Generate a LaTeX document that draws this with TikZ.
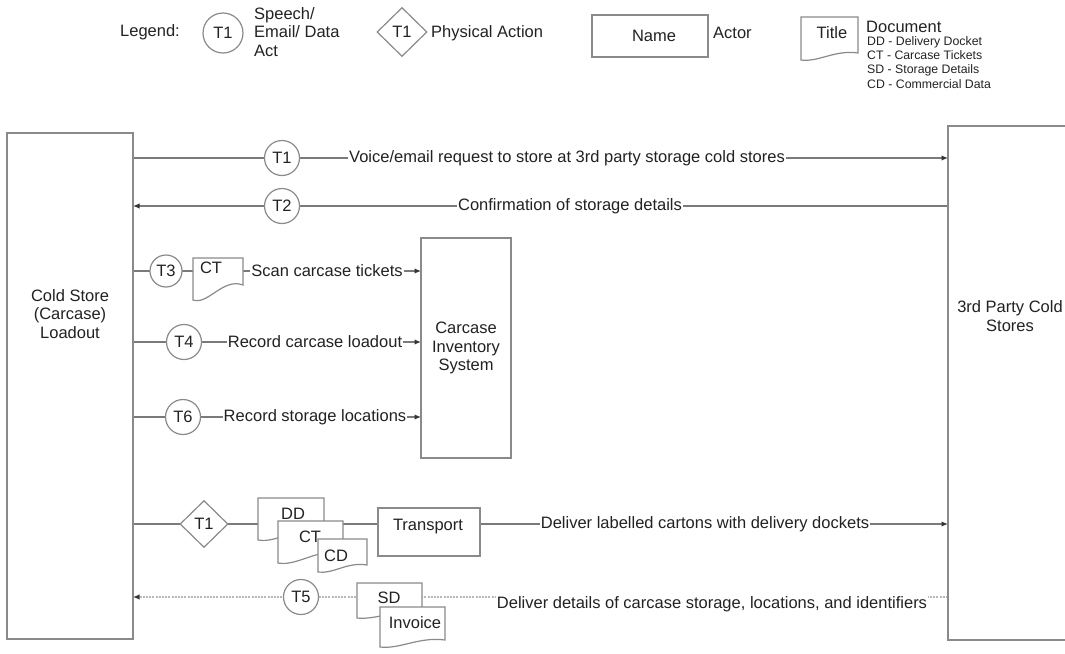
\documentclass[tikz,border=0pt]{standalone}
\usepackage{fontspec}
\setmainfont{Liberation Sans}
\usetikzlibrary{arrows.meta,shapes.geometric,backgrounds}
\definecolor{txt}{HTML}{222222}
\definecolor{edge}{HTML}{8A8A8A}
\definecolor{lnk}{HTML}{7A7A7A}
\definecolor{tip}{HTML}{333333}
\definecolor{dotc}{HTML}{B8B8B8}
\newcommand\mainfs{\fontsize{16.5}{18.5}\selectfont}
\newcommand\smallfs{\fontsize{12.3}{14.3}\selectfont}
\tikzset{
  lbl/.style={font=\mainfs, text=txt, inner sep=1pt, fill=white},
  lbltr/.style={font=\mainfs, text=txt, inner sep=0pt},
  actor/.style={draw=edge, line width=1.5pt, fill=white, inner sep=0pt, outer sep=0pt},
  act/.style={circle, draw=edge, line width=1.2pt, fill=white, minimum size=35pt, inner sep=0pt, font=\mainfs, text=txt},
  phys/.style={diamond, draw=edge, line width=1.2pt, fill=white, minimum width=48pt, minimum height=47pt, inner sep=0pt, font=\mainfs, text=txt},
  docbody/.style={draw=none, inner sep=0pt, outer sep=0pt},
  docline/.style={draw=edge, line width=1.2pt, fill=white},
  doctext/.style={font=\mainfs, text=txt, inner sep=0pt},
  conn/.style={draw=lnk, line width=1.3pt, -{Latex[length=6.5pt,width=5.5pt,color=tip]}},
  dotconn/.style={draw=dotc, line width=1.3pt, dash pattern=on 2pt off 1.2pt, -{Latex[length=6.5pt,width=5.5pt,color=tip]}},
}
\newcommand\docnode[9]{%
  \pgfmathsetmacro\dBl{#3+#6}%
  \pgfmathsetmacro\dCax{#2+0.3*#4}%
  \pgfmathsetmacro\dCay{#3+#6+0.35*(#6-#5)}%
  \pgfmathsetmacro\dCbx{#2+0.6*#4}%
  \pgfmathsetmacro\dCby{#3+#5-0.5*(#6-#5)}%
  \node[docbody, minimum width=#4pt, minimum height=#5pt, anchor=north west] (#1) at (#2,#3) {};
  \filldraw[docline] (#1.north west) -- (#2,\dBl) .. controls (\dCax,\dCay) and (\dCbx,\dCby) .. (#1.south east) -- (#1.north east) -- cycle;
  \node[doctext] (#1-t) at (#8,#9) {#7};
}
\begin{document}
\begin{tikzpicture}[x=1pt,y=-1pt]
\useasboundingbox (0,0) rectangle (1065,653);
\clip (0,0) rectangle (1065,653);

% ---------- legend ----------
\node[lbltr] (leg) at (150,32) {Legend:};
\node[act, minimum size=40pt] (legact) at (223,33) {T1};
\node[lbltr, anchor=west, align=left] (legacttxt) at (254,32) {Speech/\\Email/ Data\\Act};
\node[phys, minimum width=50pt, minimum height=49pt] (legphys) at (402,32) {T1};
\node[lbltr, anchor=west] (legphystxt) at (431,33) {Physical Action};
\node[actor, minimum width=116pt, minimum height=42pt] (legactor) at (650,36) {};
\node[lbltr] (legname) at (654,36) {Name};
\node[lbltr, anchor=west] (legactortxt) at (713,33) {Actor};
\docnode{legdoc}{801}{17}{57}{36}{43}{Title}{832}{33}
\node[lbltr, anchor=west] (legdoctxt) at (866,27) {Document};
\node[anchor=north west, align=left, font=\smallfs, text=txt, inner sep=0pt] (legdoclist) at (867,36)
  {DD - Delivery Docket\\CT - Carcase Tickets\\SD - Storage Details\\CD - Commercial Data};

% ---------- actors ----------
\node[actor, minimum width=126pt, minimum height=506pt, anchor=north west] (cold) at (7,133) {};
\node[lbltr, align=center] (coldt) at (70,314) {Cold Store\\(Carcase)\\Loadout};
\node[actor, minimum width=126pt, minimum height=514pt, anchor=north west] (third) at (948,126) {};
\node[lbltr, align=center] (thirdt) at (1010,316) {3rd Party Cold\\Stores};
\node[actor, minimum width=90pt, minimum height=220pt, anchor=north west] (inv) at (421,238) {};
\node[lbltr, align=center] (invt) at (466,348) {Carcase\\Inventory\\System};

% ---------- row T1 ----------
\node[act] (t1) at (282,158) {T1};
\node[lbl] (t1txt) at (567,158) {Voice/email request to store at 3rd party storage cold stores};
% ---------- row T2 ----------
\node[act] (t2) at (282,206) {T2};
\node[lbl] (t2txt) at (570,206) {Confirmation of storage details};
% ---------- row T3 ----------
\node[act, minimum size=32pt] (t3) at (166,271) {T3};
\docnode{ct1}{193}{258}{50}{27}{42}{CT}{211}{268}
\node[lbl] (t3txt) at (327,271) {Scan carcase tickets};
% ---------- row T4 ----------
\node[act] (t4) at (184,342) {T4};
\node[lbl] (t4txt) at (315,342) {Record carcase loadout};
% ---------- row T6 ----------
\node[act] (t6) at (183,417) {T6};
\node[lbl] (t6txt) at (315,417) {Record storage locations};
% ---------- row physical T1 ----------
\node[phys] (pa) at (204,524) {T1};
\docnode{dd}{258}{498}{66}{32}{42}{DD}{293}{514}
\docnode{ct2}{278}{521}{65}{32}{42}{CT}{310}{537}
\docnode{cd}{318}{539}{49}{26}{33}{CD}{336}{556}
\node[actor, minimum width=102pt, minimum height=48pt, anchor=north west] (trans) at (378,508) {};
\node[lbltr] (transt) at (428,527) {Transport};
\node[lbl] (patxt) at (705,524) {Deliver labelled cartons with delivery dockets};
% ---------- row T5 ----------
\node[act] (t5) at (301,597) {T5};
\docnode{sd}{357}{583}{65}{29}{35}{SD}{389}{598}
\docnode{inv2}{380}{607}{65}{33}{40}{Invoice}{415}{623}
\node[lbl] (t5txt) at (712,604) {Deliver details of carcase storage, locations, and identifiers};

% ---------- connectors ----------
\begin{pgfonlayer}{background}
\draw[conn] (cold.east |- t1) -- (third.west |- t1);
\draw[conn] (third.west |- t2) -- (cold.east |- t2);
\draw[conn] (cold.east |- t3) -- (inv.west |- t3);
\draw[conn] (cold.east |- t4) -- (inv.west |- t4);
\draw[conn] (cold.east |- t6) -- (inv.west |- t6);
\draw[conn] (cold.east |- pa) -- (third.west |- pa);
\draw[dotconn] (third.west |- t5) -- (cold.east |- t5);
\end{pgfonlayer}
\end{tikzpicture}
\end{document}
